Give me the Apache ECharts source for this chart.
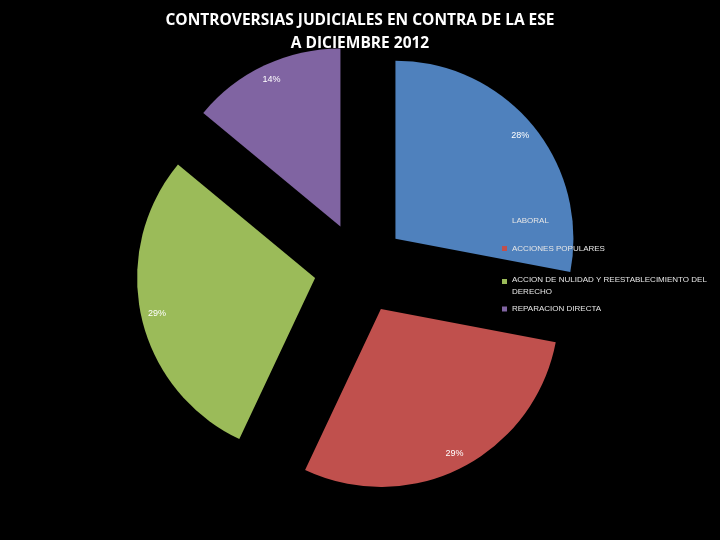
<!DOCTYPE html>
<html>
<head>
<meta charset="utf-8">
<script src="https://cdn.jsdelivr.net/npm/echarts@6/dist/echarts.min.js"></script>
<style>
html,body{margin:0;padding:0;background:#000;}
#c{width:720px;height:540px;}
</style>
</head>
<body>
<div id="c"></div>
<script>
const categories = ['LABORAL', 'ACCIONES POPULARES', 'ACCION DE NULIDAD Y REESTABLECIMIENTO DEL DERECHO', 'REPARACION DIRECTA'];
const values = [28, 29, 29, 14];
const colors = ['#4F81BD', '#C0504D', '#9BBB59', '#8064A2'];
const titleLines = ['CONTROVERSIAS JUDICIALES EN CONTRA DE LA ESE', 'A DICIEMBRE 2012'];

const chart = echarts.init(document.getElementById('c'));
const dataMain = categories.map((n, i) => ({ name: n, value: values[i], selected: true, itemStyle: { color: colors[i] } }));
const dataLabel = categories.map((n, i) => ({ name: n, value: values[i], selected: true, itemStyle: { color: 'rgba(0,0,0,0)' } }));

chart.setOption({
  backgroundColor: '#000',
  animation: false,
  title: {
    text: titleLines.join('\n'),
    left: 'center',
    top: 4,
    textStyle: { color: '#fff', fontFamily: 'Open Sans', fontWeight: 'bold', fontSize: 15.5, lineHeight: 23 }
  },
  legend: {
    orient: 'vertical',
    left: 502,
    top: 209,
    padding: 0,
    itemWidth: 5,
    itemHeight: 5,
    itemGap: 5,
    icon: 'rect',
    selectedMode: false,
    data: categories,
    formatter: function (name) {
      const idx = categories.indexOf(name);
      if (name.indexOf(' DERECHO') >= 0) {
        return '{s| }\n{t|' + name.replace(' DERECHO', '}\n{t|DERECHO') + '}';
      }
      return (idx < 2 ? '{b|' : '{t|') + name + '}';
    },
    textStyle: {
      color: '#e6e6e6', fontSize: 8, fontFamily: 'Liberation Sans', lineHeight: 12,
      rich: {
        s: { fontSize: 1, lineHeight: 9, color: '#e6e6e6', fontFamily: 'Liberation Sans' },
        t: { fontSize: 8, lineHeight: 12, color: '#e6e6e6', fontFamily: 'Liberation Sans' },
        b: { fontSize: 8, lineHeight: 23, color: '#e6e6e6', fontFamily: 'Liberation Sans' }
      }
    }
  },
  series: [
    {
      type: 'pie',
      center: [360, 268],
      radius: [0, 178],
      startAngle: 90,
      clockwise: true,
      selectedMode: 'multiple',
      selectedOffset: 46,
      silent: true,
      label: { show: false },
      labelLine: { show: false },
      emphasis: { disabled: true },
      data: dataMain
    },
    {
      type: 'pie',
      center: [360, 268],
      radius: [140, 178],
      startAngle: 90,
      clockwise: true,
      selectedMode: 'multiple',
      selectedOffset: 46,
      silent: true,
      z: 3,
      label: { show: true, position: 'inside', formatter: '{c}%', color: '#fff', fontSize: 9, fontFamily: 'Liberation Sans' },
      labelLine: { show: false },
      emphasis: { disabled: true },
      data: dataLabel
    }
  ]
});
</script>
</body>
</html>
